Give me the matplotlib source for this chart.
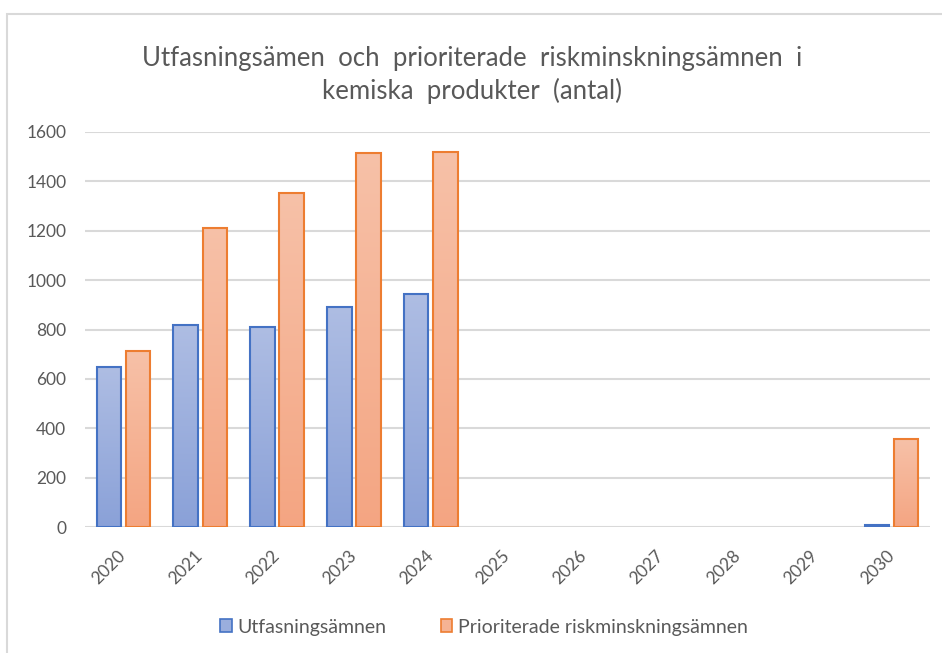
import numpy as np
import matplotlib
matplotlib.use("Agg")
import matplotlib.pyplot as plt
from matplotlib.patches import Patch, Rectangle
from matplotlib.colors import LinearSegmentedColormap

years = ["2020", "2021", "2022", "2023", "2024", "2025", "2026", "2027", "2028", "2029", "2030"]
utfasning = [648, 820, 810, 893, 943, 0, 0, 0, 0, 0, 8]
prioriterade = [713, 1212, 1352, 1514, 1518, 0, 0, 0, 0, 0, 355]
series_names = ["Utfasningsämnen", "Prioriterade riskminskningsämnen"]
title = "Utfasningsämen  och  prioriterade  riskminskningsämnen  i\nkemiska  produkter  (antal)"
yticks = [0, 200, 400, 600, 800, 1000, 1200, 1400, 1600]

plt.rcParams['font.family'] = ['Lato', 'DejaVu Sans']
txt = '#595959'

fig = plt.figure(figsize=(9.42, 6.53), dpi=100)
ax = fig.add_axes([85/942, 126/653, 845/942, 395/653])

x = np.arange(len(years))
w = 0.32
off = 0.19
b1 = ax.bar(x - off, utfasning, w, facecolor='none', edgecolor='#4472c4', linewidth=1.5, zorder=3)
b2 = ax.bar(x + off, prioriterade, w, facecolor='none', edgecolor='#ed7d31', linewidth=1.5, zorder=3)

cm_blue = LinearSegmentedColormap.from_list('b', ['#8aa1d8', '#aebde3'])
cm_or = LinearSegmentedColormap.from_list('o', ['#f4a582', '#f7c1a8'])
grad = np.linspace(0, 1, 256).reshape(-1, 1)
for bars, cm in ((b1, cm_blue), (b2, cm_or)):
    for p in bars:
        h = p.get_height()
        if h <= 0:
            p.set_visible(False)
            continue
        x0 = p.get_x(); ww = p.get_width()
        im = ax.imshow(grad, cmap=cm, origin='lower', aspect='auto',
                       extent=(x0, x0 + ww, 0, h), zorder=2)
        clip = Rectangle((x0, 0), ww, h, transform=ax.transData)
        im.set_clip_path(clip)

ax.set_xlim(-0.5, len(years) - 0.5)
ax.set_ylim(0, 1600)
ax.set_yticks(yticks)
ax.set_yticklabels([str(v) for v in yticks])
ax.set_xticks(x)
ax.set_xticklabels(years, rotation=45, ha='right', va='center', rotation_mode='anchor')
ax.tick_params(axis='both', length=0, labelsize=12.5, colors=txt)
ax.tick_params(axis='y', pad=13.5)
ax.tick_params(axis='x', pad=18.5)
for s in ax.spines.values():
    s.set_visible(False)
ax.yaxis.grid(True, color='#d9d9d9', linewidth=1.5, zorder=0)
ax.set_axisbelow(True)

fig.text(472/942, 1 - 75/653, title, ha='center', va='center', fontsize=18.5,
         color=txt, linespacing=1.3)

handles = [Patch(facecolor='#9aaedd', edgecolor='#4472c4', linewidth=1.2),
           Patch(facecolor='#f5b394', edgecolor='#ed7d31', linewidth=1.2)]
fig.legend(handles, series_names, loc='center', bbox_to_anchor=(484/942, 1 - 627/653),
           ncol=2, frameon=False, fontsize=14, labelcolor=txt, handlelength=0.6,
           handleheight=0.6, handletextpad=0.3, columnspacing=2.8)

fig.add_artist(Rectangle((7/942, -0.1), 1.2, 1 - 14/653 + 0.1, transform=fig.transFigure,
                         fill=False, edgecolor='#d9d9d9', linewidth=1.5))

fig.savefig('out.png', dpi=100)
